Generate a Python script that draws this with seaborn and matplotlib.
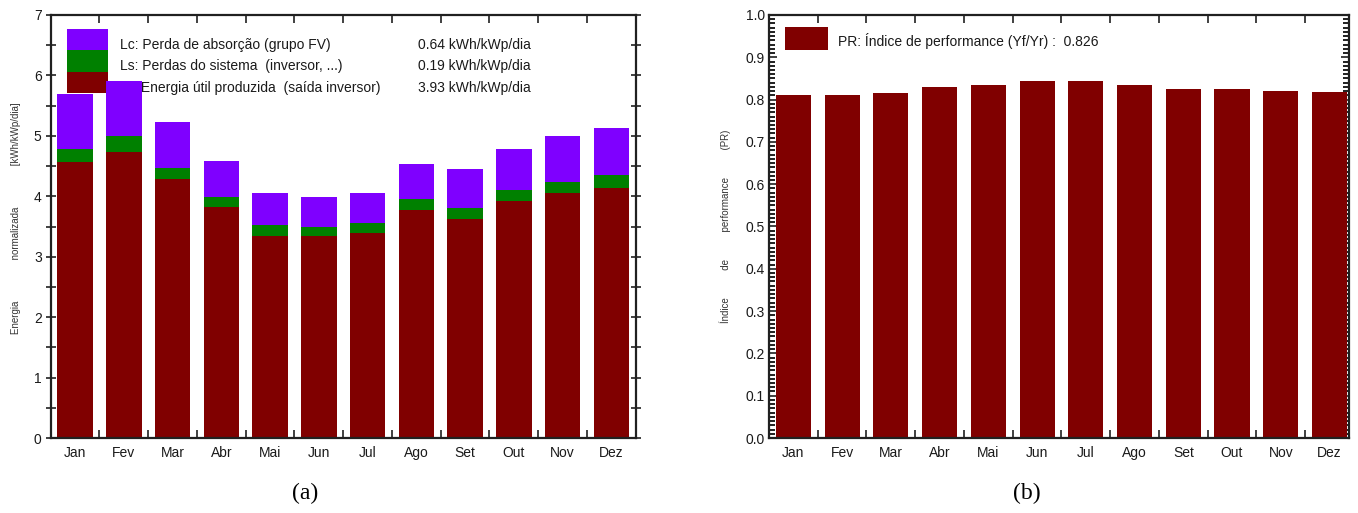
import matplotlib
matplotlib.use("Agg")
import matplotlib.pyplot as plt
from matplotlib.patches import Patch
from matplotlib.ticker import MultipleLocator, FixedLocator, FormatStrFormatter
import seaborn as sns
import pandas as pd

# Monthly normalized energy and performance ratio
months = ["Jan", "Fev", "Mar", "Abr", "Mai", "Jun", "Jul", "Ago", "Set", "Out", "Nov", "Dez"]
yf = [4.56, 4.74, 4.28, 3.82, 3.35, 3.35, 3.39, 3.78, 3.63, 3.92, 4.06, 4.14]   # useful energy
ls = [0.22, 0.25, 0.18, 0.17, 0.18, 0.14, 0.17, 0.17, 0.18, 0.18, 0.18, 0.21]   # system losses
lc = [0.91, 0.92, 0.77, 0.60, 0.53, 0.50, 0.50, 0.58, 0.64, 0.68, 0.75, 0.78]   # array losses
pr = [0.811, 0.811, 0.816, 0.830, 0.835, 0.845, 0.845, 0.835, 0.826, 0.826, 0.821, 0.817]

legend_a = ["Lc: Perda de absorção (grupo FV)",
            "Ls: Perdas do sistema  (inversor, ...)",
            "Yf: Energia útil produzida  (saída inversor)"]
legend_a_values = ["0.64 kWh/kWp/dia", "0.19 kWh/kWp/dia", "3.93 kWh/kWp/dia"]
legend_b = "PR: Índice de performance (Yf/Yr) :  0.826"

C_LC = "#7F00FF"
C_LS = "#008000"
C_YF = "#800000"

sns.set_style("ticks")
plt.rcParams["font.family"] = ["Liberation Sans", "DejaVu Sans"]
plt.rcParams["axes.edgecolor"] = "#202020"

df = pd.DataFrame({"mes": months, "yf": yf, "ls": ls, "lc": lc, "pr": pr})
df["yf_ls"] = df["yf"] + df["ls"]
df["total"] = df["yf_ls"] + df["lc"]

fig = plt.figure(figsize=(13.58, 5.13), dpi=100)
W, H = 1358, 513
ax1 = fig.add_axes([50.7 / W, 75 / H, 585 / W, 423 / H])
ax2 = fig.add_axes([769 / W, 75 / H, 580 / W, 423 / H])

TXT = "#1a1a1a"
FS = 10

# (a) stacked normalized energy: overlay cumulative totals
for col, c in [("total", C_LC), ("yf_ls", C_LS), ("yf", C_YF)]:
    sns.barplot(data=df, x="mes", y=col, color=c, saturation=1, width=0.73,
                linewidth=0, ax=ax1, zorder=2)

ax1.set_xlim(-0.5, 11.5)
ax1.set_ylim(0, 7)
ax1.yaxis.set_major_locator(MultipleLocator(1))
ax1.yaxis.set_minor_locator(MultipleLocator(0.5))
ax1.set_xlabel("")
ax1.set_ylabel("Energia               normalizada               [kWh/kWp/dia]",
               fontsize=7, color="#333333")
ax1.yaxis.set_label_coords(-0.051, 0.52)

# (b) performance ratio
sns.barplot(data=df, x="mes", y="pr", color=C_YF, saturation=1, width=0.72,
            linewidth=0, ax=ax2, zorder=2)
ax2.set_xlim(-0.5, 11.4)
ax2.set_ylim(0, 1.0)
ax2.yaxis.set_major_locator(MultipleLocator(0.1))
ax2.yaxis.set_minor_locator(MultipleLocator(0.01))
ax2.yaxis.set_major_formatter(FormatStrFormatter("%.1f"))
ax2.set_xlabel("")
ax2.set_ylabel("Índice          de          performance          (PR)",
               fontsize=7, color="#333333")
ax2.yaxis.set_label_coords(-0.066, 0.50)

for ax in (ax1, ax2):
    for s in ax.spines.values():
        s.set_visible(True)
        s.set_linewidth(1.6)
        s.set_color("#202020")
    ax.xaxis.set_minor_locator(FixedLocator([i + 0.5 for i in range(11)]))
    ax.tick_params(axis="x", which="major", length=0, pad=6, labelsize=FS, colors=TXT)
    ax.tick_params(axis="x", which="minor", direction="in", bottom=True, top=True,
                   length=6, width=1.2, color="#202020")
    ax.tick_params(axis="y", which="both", labelsize=FS, colors=TXT, pad=3)

ax1.tick_params(axis="y", which="both", direction="inout", left=True, right=True,
                length=7, width=1.2, color="#202020")
ax2.tick_params(axis="y", which="major", direction="in", left=True, right=True,
                length=6, width=1.2, color="#202020")
ax2.tick_params(axis="y", which="minor", direction="in", left=True, right=True,
                length=4, width=1.4, color="#202020")

# Legend of (a): stacked colour keys, drawn under the bars
handles_a = [Patch(facecolor=c, edgecolor="none") for c in (C_LC, C_LS, C_YF)]
leg1 = ax1.legend(handles_a, legend_a, loc="upper left", bbox_to_anchor=(0.028, 0.968),
                  frameon=False, fontsize=FS, handlelength=2.95, handleheight=2.02,
                  labelspacing=0.0, handletextpad=0.86, borderpad=0, borderaxespad=0)
leg1.set_zorder(1)
for t in leg1.get_texts():
    t.set_color(TXT)
    t.set_y(-5)   # sit the labels slightly below the key centres
for i, v in enumerate(legend_a_values):
    ax1.text(0.628, 0.929 - i * 0.0505, v, transform=ax1.transAxes, fontsize=FS,
             color=TXT, va="center", ha="left", zorder=1)

handles_b = [Patch(facecolor=C_YF, edgecolor="none")]
leg2 = ax2.legend(handles_b, [legend_b], loc="upper left", bbox_to_anchor=(0.028, 0.972),
                  frameon=False, fontsize=FS, handlelength=3.1, handleheight=2.17,
                  handletextpad=0.72, borderpad=0, borderaxespad=0)
for t in leg2.get_texts():
    t.set_color(TXT)
    t.set_y(-3)

fig.text(305 / W, 1 - 493 / H, "(a)", family="Liberation Serif", fontsize=17,
         ha="center", va="center", color="black")
fig.text(1027 / W, 1 - 493 / H, "(b)", family="Liberation Serif", fontsize=17,
         ha="center", va="center", color="black")

fig.savefig("out.png", dpi=100, facecolor="white")
